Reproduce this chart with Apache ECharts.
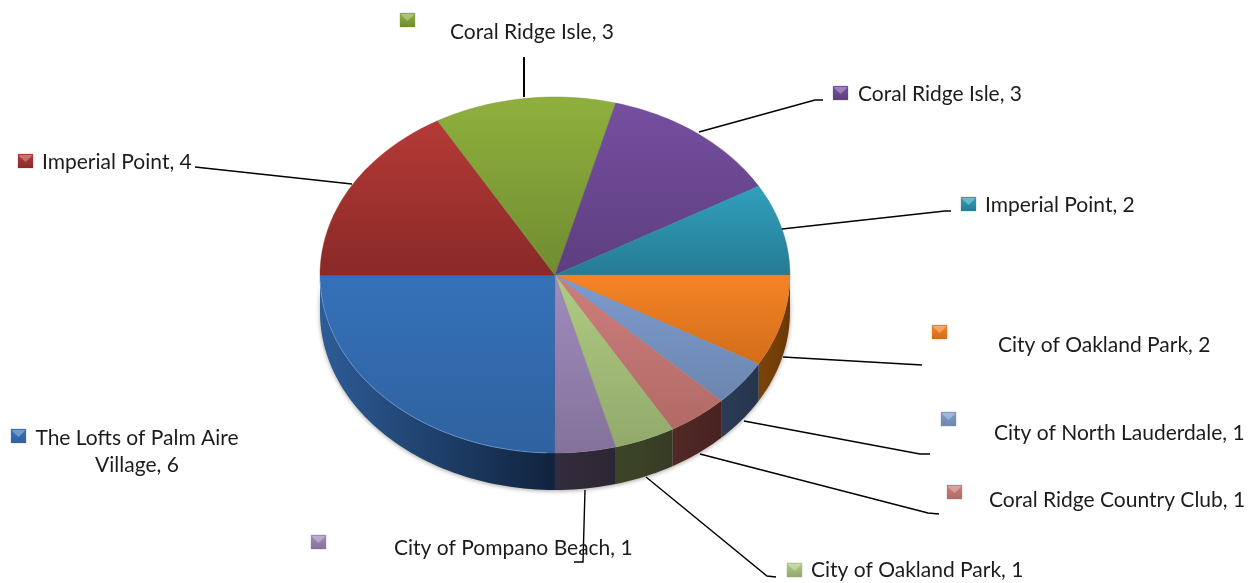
<!DOCTYPE html>
<html><head><meta charset="utf-8">
<style>html,body{margin:0;padding:0;background:#fff}#c{width:1253px;height:583px}</style>
<script src="https://cdn.jsdelivr.net/npm/echarts@6/dist/echarts.min.js"></script>
</head><body><div id="c"></div>
<script>
// ---- data ----
const names = ['The Lofts of Palm Aire\nVillage','Imperial Point','Coral Ridge Isle','Coral Ridge Isle','Imperial Point','City of Oakland Park','City of North Lauderdale','Coral Ridge Country Club','City of Oakland Park','City of Pompano Beach'];
const values = [6,4,3,3,2,2,1,1,1,1];

// ---- styles ----
const topLight = ['#3571B9','#B63A36','#8FB03D','#764FA0','#31A0BE','#F58426','#7D9BD0','#CD7E7B','#B0CC82','#A08CBE'];
const topDark  = ['#2F629F','#892927','#708C30','#5D3E7F','#267B92','#D26D1A','#6C86AE','#B26A67','#92A96B','#84729A'];
const wallLight= ['#2D5C97','#000','#000','#000','#000','#7E4408','#2C3C58','#512A28','#3D4528','#332C3C'];
const wallDark = ['#10233D','#000','#000','#000','#000','#6A3805','#26344C','#47221F','#363C24','#2C2634'];

// ---- layout (pixels) ----
const PIE = {cx:555, cy:275, rx:235, ry:178, depth:37, start:90};
const FONT = '21px Lato, "Open Sans", sans-serif';
const markerPos = [[11,429],[18,154],[400,13],[833,86],[961,197],[932,325],[941,412],[947,485],[787,563],[311,535]];
const textPos   = [[137,438,'center'],[42,162,'left'],[450,32,'left'],[858,94,'left'],[985,205,'left'],[998,345,'left'],[994,433,'left'],[989,500,'left'],[811,570,'left'],[394,548,'left']];
const leaders   = [null,
  [[352,184],[195,167]],
  [[524,97],[524,57]],
  [[699,132],[815,100],[823,100]],
  [[782,229],[945,211],[951,211]],
  [[783,357],[922,365]],
  [[744,421],[920,454],[930,454]],
  [[700,454],[928,513],[939,514]],
  [[646,477],[767,576],[776,577]],
  [[585,490],[583,562],[574,562]]];

const total = values.reduce((a,b)=>a+b,0);
const angles = []; // clockwise screen degrees, 0 = right
values.reduce((acc,v)=>{angles.push([acc,acc+v/total*360]);return acc+v/total*360;},PIE.start);

function rim(a0,a1,dy,api){
  const pts=[];const n=Math.max(2,Math.ceil((a1-a0)/1.5));
  for(let i=0;i<=n;i++){
    const a=(a0+(a1-a0)*i/n)*Math.PI/180;
    pts.push(api.coord([PIE.cx+PIE.rx*Math.cos(a),PIE.cy+dy+PIE.ry*Math.sin(a)]));
  }
  return pts;
}
function normal(a){return ((a%360)+360)%360;}

const seriesData = values.map((v,i)=>[v,i]);

const wallSeries = {
  type:'custom',coordinateSystem:'cartesian2d',silent:true,z:1,data:seriesData,
  renderItem(p,api){
    const i=api.value(1);let [a0,a1]=angles[i];
    a0=normal(a0);a1=a0+(angles[i][1]-angles[i][0]);
    if(a0>=180) return {type:'group',children:[]};
    const e=Math.min(a1,180);
    const top=rim(a0,e,0,api),bot=rim(a0,e,PIE.depth,api).reverse();
    return {type:'polygon',shape:{points:top.concat(bot)},style:{
      fill:{type:'linear',x:i===0?1:0,y:0,x2:i===0?0:1,y2:0,colorStops:[{offset:0,color:i===0?wallDark[i]:wallLight[i]},{offset:1,color:i===0?wallLight[i]:wallDark[i]}]},
      shadowBlur:4,shadowColor:'rgba(60,50,40,0.45)',shadowOffsetY:1}};
  }
};
const topSeries = {
  type:'custom',coordinateSystem:'cartesian2d',silent:true,z:2,data:seriesData,
  renderItem(p,api){
    const i=api.value(1);const [a0,a1]=angles[i];
    const pts=rim(a0,a1,0,api);pts.unshift(api.coord([PIE.cx,PIE.cy]));
    const children=[{type:'polygon',shape:{points:pts},style:{
      fill:{type:'linear',x:0,y:0,x2:0,y2:1,colorStops:[{offset:0,color:topLight[i]},{offset:1,color:topDark[i]}]},
      stroke:topDark[i],lineWidth:0.4}}];
    if(i===0){children.push({type:'polyline',shape:{points:rim(a0+2,a1-2,0,api)},style:{fill:null,stroke:'rgba(130,170,225,0.55)',lineWidth:1}});}
    return {type:'group',children};
  }
};
const leaderSeries = {
  type:'custom',coordinateSystem:'cartesian2d',silent:true,z:3,data:seriesData,
  renderItem(p,api){
    const i=api.value(1);const l=leaders[i];
    if(!l) return {type:'group',children:[]};
    return {type:'polyline',shape:{points:l.map(q=>api.coord(q))},style:{fill:null,stroke:'#000',lineWidth:i===2?2:1.4}};
  }
};
const labelSeries = {
  type:'custom',coordinateSystem:'cartesian2d',silent:true,z:4,data:seriesData,
  renderItem(p,api){
    const i=api.value(1);
    const [mx,my]=api.coord(markerPos[i]);const [tx,ty]=api.coord(textPos[i]);
    const w=15,h=14,center=textPos[i][2]==='center';
    return {type:'group',children:[
      {type:'rect',shape:{x:mx,y:my,width:w,height:h},style:{
        fill:{type:'linear',x:0,y:0,x2:0,y2:1,colorStops:[{offset:0,color:topLight[i]},{offset:1,color:topDark[i]}]},
        shadowBlur:1.5,shadowColor:'rgba(0,0,0,0.3)'}},
      {type:'polygon',shape:{points:[[mx+1,my+1],[mx+w-1,my+1],[mx+w-2,my+3],[mx+w/2,my+h/2+1],[mx+2,my+3]]},style:{fill:'rgba(255,255,255,0.3)'}},
      {type:'text',style:{text:names[i]+', '+api.value(0),x:tx,y:center?ty-13:ty,align:textPos[i][2],verticalAlign:center?'top':'middle',font:FONT,fill:'#1c1c1c',lineHeight:27}}
    ]};
  }
};

const chart = echarts.init(document.getElementById('c'),null,{renderer:'canvas'});
chart.setOption({
  animation:false,backgroundColor:'#fff',
  grid:{left:0,right:0,top:0,bottom:0},
  xAxis:{type:'value',min:0,max:1253,show:false},
  yAxis:{type:'value',min:0,max:583,inverse:true,show:false},
  series:[wallSeries,topSeries,leaderSeries,labelSeries]
});
</script></body></html>
